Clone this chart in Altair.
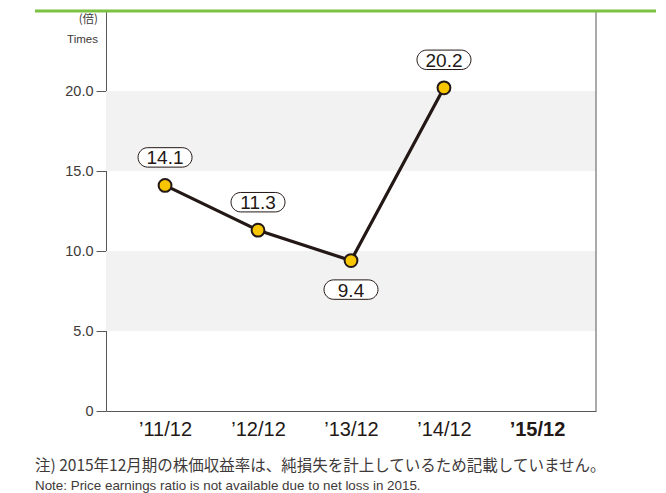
import altair as alt
import pandas as pd

years = ["’11/12", "’12/12", "’13/12", "’14/12", "’15/12"]
pe_years = ["’11/12", "’12/12", "’13/12", "’14/12"]
pe_values = [14.1, 11.3, 9.4, 20.2]
label_above = [True, True, False, True]
band_low = [5, 15]
band_high = [10, 20]
y_ticks = [0, 5, 10, 15, 20]

note_ja = "注) 2015年12月期の株価収益率は、純損失を計上しているため記載していません。"
note_en = "Note: Price earnings ratio is not available due to net loss in 2015."

df = pd.DataFrame({"year": pe_years, "pe": pe_values, "above": label_above})
df["label"] = df["pe"].map(lambda v: f"{v:.1f}")
bands = pd.DataFrame({"lo": band_low, "hi": band_high})
one = pd.DataFrame({"k": [0]})

W, H = 490, 400
FONT = "Liberation Sans"
DARK = "#231815"
AXC = "#595757"
TXT = "#3e3a39"

x_scale = alt.Scale(type="point", domain=years, padding=0.635)
y_scale = alt.Scale(domain=[0, 25], nice=False, zero=True)

x_axis = alt.Axis(
    title=None, ticks=False, domainColor=AXC, domainWidth=1, labelAngle=0,
    labelFontSize=20, labelColor=DARK, labelFont=FONT, labelPadding=8,
    labelFontWeight={"expr": "indexof(datum.label, '15/') >= 0 ? 'bold' : 'normal'"},
    grid=False,
)
y_axis = alt.Axis(
    title=None, values=y_ticks, tickSize=10, tickColor=AXC, domainColor=AXC,
    labelFontSize=14.5, labelColor=TXT, labelFont=FONT, labelPadding=3,
    labelExpr="datum.value == 0 ? '0' : format(datum.value, '.1f')", grid=False,
)

band_layer = alt.Chart(bands).mark_rect(color="#f2f2f2").encode(
    y=alt.Y("lo:Q", scale=y_scale, axis=y_axis),
    y2="hi:Q",
    x=alt.value(0),
    x2=alt.value(W),
)

base = alt.Chart(df).encode(
    x=alt.X("year:N", scale=x_scale, sort=years, axis=x_axis),
    y=alt.Y("pe:Q", scale=y_scale, axis=y_axis),
)

line = base.mark_line(color=DARK, strokeWidth=3.2)
pts = base.mark_point(shape="circle", size=165, filled=True, fill="#f7c600",
                      stroke=DARK, strokeWidth=2, opacity=1)

box_path = ("M-0.64,-0.36 L0.64,-0.36 A0.36,0.36 0 0 1 0.64,0.36 "
            "L-0.64,0.36 A0.36,0.36 0 0 1 -0.64,-0.36 Z")

above = base.transform_filter("datum.above")
below = base.transform_filter("!datum.above")

box_above = above.mark_point(shape=box_path, size=2916, filled=True, fill="white",
                             stroke=DARK, strokeWidth=1, opacity=1, yOffset=-28)
box_below = below.mark_point(shape=box_path, size=2916, filled=True, fill="white",
                             stroke=DARK, strokeWidth=1, opacity=1, yOffset=29)
txt_above = above.mark_text(font=FONT, fontSize=19, color=DARK, yOffset=-27,
                            baseline="middle").encode(text="label:N")
txt_below = below.mark_text(font=FONT, fontSize=19, color=DARK, yOffset=30,
                            baseline="middle").encode(text="label:N")

right_border = alt.Chart(one).mark_rule(color=AXC, strokeWidth=1).encode(
    x=alt.value(W), y=alt.value(0), y2=alt.value(H))
green = alt.Chart(one).mark_rule(color="#7dc142", strokeWidth=3).encode(
    x=alt.value(-71), x2=alt.value(560), y=alt.value(0))

unit_ja = alt.Chart(one).mark_text(text="(倍)", font="Noto Sans CJK JP", fontSize=11.5,
                                   color=TXT, align="right").encode(
    x=alt.value(-8), y=alt.value(9))
unit_en = alt.Chart(one).mark_text(text="Times", font=FONT, fontSize=11.5,
                                   color=TXT, align="right").encode(
    x=alt.value(-8), y=alt.value(29))

n1 = alt.Chart(one).mark_text(text=note_ja, font="Noto Sans CJK JP", fontSize=15.5,
                              color=TXT, align="left").encode(
    x=alt.value(-71), y=alt.value(455))
n2 = alt.Chart(one).mark_text(text=note_en, font=FONT, fontSize=13.4,
                              color=TXT, align="left").encode(
    x=alt.value(-71), y=alt.value(475))

chart = alt.layer(
    band_layer, line, pts, box_above, box_below, txt_above, txt_below,
    right_border, green, unit_ja, unit_en, n1, n2,
).properties(
    width=W, height=H,
    autosize=alt.AutoSizeParams(type="none"),
    padding={"left": 98, "top": 3, "right": 60, "bottom": 82},
).configure_view(stroke=None)

chart.save("out.html", embed_options={"renderer": "svg", "actions": False})
